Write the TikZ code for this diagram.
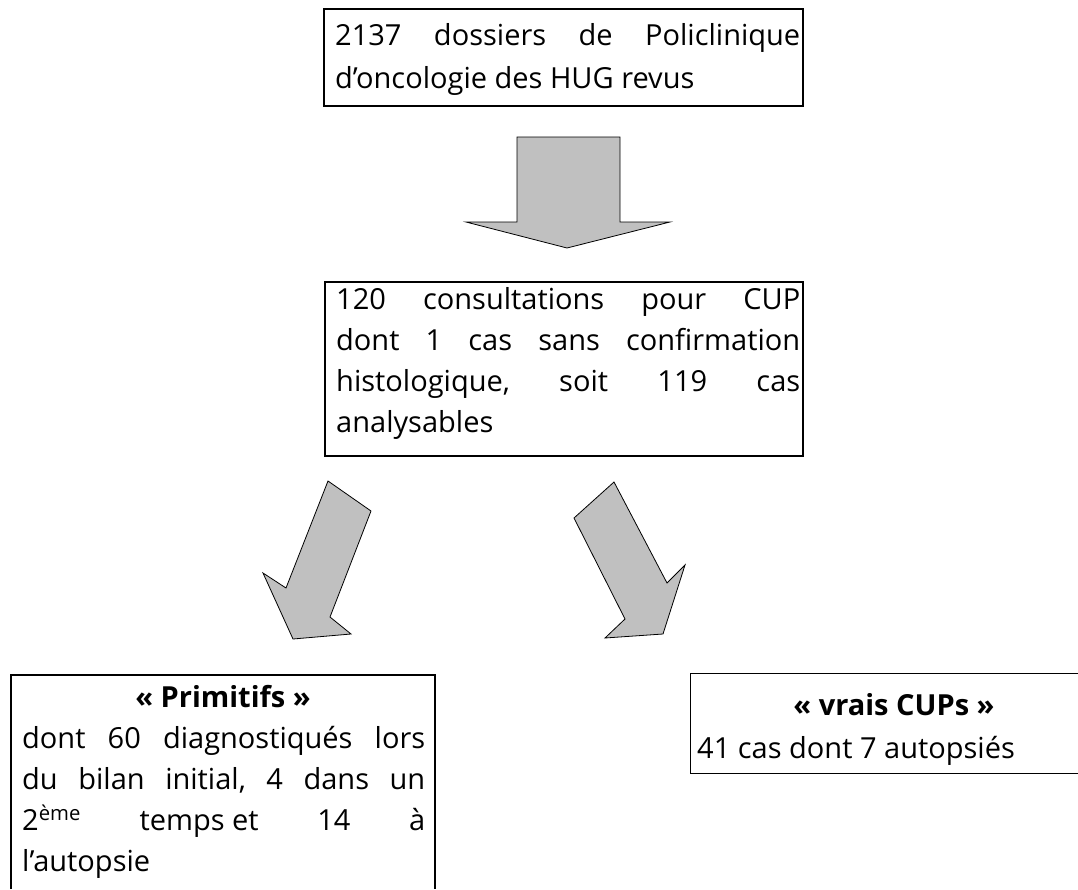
\documentclass[tikz,border=0pt]{standalone}
\usepackage{fontspec}
\setmainfont{Open Sans}
\definecolor{arrowgray}{RGB}{192,192,192}
\begin{document}
\begin{tikzpicture}[x=1pt,y=-1pt,
  txt/.style={anchor=base west, inner sep=0pt, font=\fontsize{29}{41}\selectfont, align=left},
  ttl/.style={anchor=base, inner sep=0pt, font=\fontsize{29}{41}\selectfont\bfseries},
  blockarrow/.style={fill=arrowgray, draw=black, line width=0.8pt, line join=miter},
  boxline/.style={line width=1.2pt},
  heavyline/.style={line width=2.6pt}]
\useasboundingbox (0,0) rectangle (1078,889);

% Box 1 (anchor base = baseline of the last line)
\draw[boxline] (324,9) rectangle (803,106);
\draw[heavyline] (324,9) -- (324,106) -- (803,106);
\node[txt, font=\fontsize{29}{43}\selectfont] (t1) at (335,88) {\hbox to 465pt{2137\hfill dossiers\hfill de\hfill Policlinique}\\
d’oncologie des HUG revus};

% Down arrow
\draw[blockarrow] (517,137) -- (620,137) -- (620,222) -- (670,222) -- (567,248) -- (466,222) -- (517,222) -- cycle;

% Box 2
\draw[boxline] (325,282) rectangle (803,456);
\draw[heavyline] (325,282) -- (325,456) -- (803,456);
\node[txt] (t2) at (336,432) {\hbox to 464pt{120\hfill consultations\hfill pour\hfill CUP}\\
\hbox to 464pt{dont\hfill 1\hfill cas\hfill sans\hfill confirmation}\\
\hbox to 464pt{histologique,\hfill soit\hfill 119\hfill cas}\\
analysables};

% Left arrow
\draw[blockarrow] (328,481) -- (371,511) -- (330,617) -- (351,634) -- (293,639) -- (263,573) -- (286,588) -- cycle;
% Right arrow
\draw[blockarrow] (614,482) -- (667,583) -- (685,565) -- (663,634) -- (605,638) -- (625,619) -- (574,518) -- cycle;

% Box 3
\draw[boxline] (11,889) -- (11,675) -- (435,675) -- (435,889);
\node[ttl] (h3) at (223,707) {« Primitifs »};
\node[txt] (t3) at (22,871) {\hbox to 403pt{dont\hfill 60\hfill diagnostiqués\hfill lors}\\
\hbox to 403pt{du\hfill bilan\hfill initial,\hfill 4\hfill dans\hfill un}\\
\hbox to 403pt{2\textsuperscript{ème}\hfill temps et\hfill 14\hfill à}\\
l’autopsie};

% Box 4
\draw[line width=1pt] (1078,673) -- (690,673) -- (690,773) -- (1078,773);
\node[ttl] (h4) at (894,715) {« vrais CUPs »};
\node[txt] (t4) at (697,758) {41 cas dont 7 autopsiés};
\end{tikzpicture}
\end{document}
